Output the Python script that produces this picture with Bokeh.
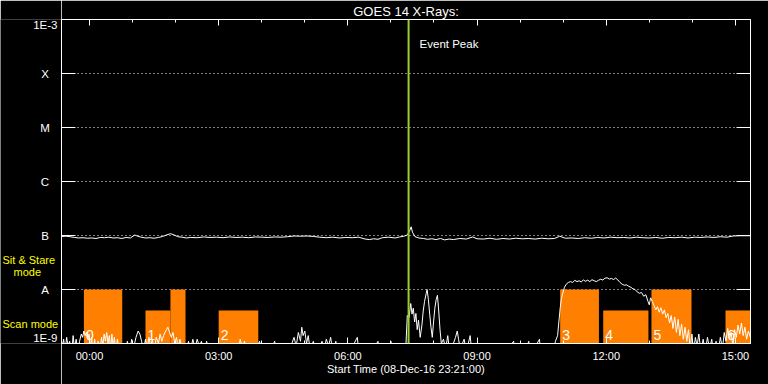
from bokeh.plotting import figure
from bokeh.layouts import row
from bokeh.models import (FixedTicker, LogAxis, LinearAxis, Label, Span, Range1d,
                          ColumnDataSource, CustomJSTickFormatter)
from bokeh.core.properties import value
from bokeh.embed import file_html
from bokeh.resources import INLINE

# ---------------- data ----------------
title_text = "GOES 14 X-Rays:"
x_axis_title = "Start Time (08-Dec-16 23:21:00)"
# x in hours relative to 09-Dec-16 00:00 ; plot spans 23:21 -> 15:21
x_start, x_end = -0.65, 15.35
x_ticks = [0, 3, 6, 9, 12, 15]
x_tick_labels = ["00:00", "03:00", "06:00", "09:00", "12:00", "15:00"]
x_minor_ticks = [1, 2, 4, 5, 7, 8, 10, 11, 13, 14]
y_ticks = [1e-9, 1e-8, 1e-7, 1e-6, 1e-5, 1e-4, 1e-3]
y_tick_labels = ["1E-9", "A", "B", "C", "M", "X", "1E-3"]

event_peak = 7.41
event_label = "Event Peak"

# observing-mode blocks (hours)
mode_start = [-0.13, 1.30, 1.88, 3.00, 10.93, 11.93, 13.05, 14.77]
mode_end = [0.76, 1.88, 2.23, 3.92, 11.83, 12.98, 13.98, 15.68]
mode_kind = ["sit", "scan", "sit", "scan", "sit", "scan", "sit", "scan"]
mode_level = {"sit": 1e-8, "scan": 4.1e-9}
mode_names = ["Sit & Stare", "mode", "Scan mode"]
seq_ids = ["0", "1", "2", "3", "4", "5", "6"]
seq_start = [-0.13, 1.30, 3.00, 10.93, 11.93, 13.05, 14.77]

# GOES long channel (1-8 A), units 1e-7 W/m^2
long_t = [-0.65, -0.55, -0.45, -0.35, -0.25, -0.15, -0.05, 0.05, 0.15, 0.25, 0.35, 0.45,
          0.55, 0.65, 0.75, 0.85, 0.95, 1.05, 1.12, 1.2, 1.3, 1.4, 1.5, 1.6, 1.7, 1.8,
          1.88, 1.95, 2.05, 2.15, 2.25, 2.35, 2.5, 2.65, 2.8, 2.95, 3.1, 3.25, 3.4, 3.55,
          3.7, 3.85, 4.0, 4.15, 4.3, 4.45, 4.6, 4.75, 4.9, 5.05, 5.2, 5.35, 5.5, 5.65,
          5.8, 5.95, 6.1, 6.25, 6.4, 6.5, 6.6, 6.7, 6.8, 6.95, 7.1, 7.2, 7.3, 7.38, 7.43,
          7.47, 7.5, 7.56, 7.65, 7.75, 7.85, 7.95, 8.05, 8.15, 8.25, 8.35, 8.45, 8.6,
          8.75, 8.9, 9.0, 9.15, 9.3, 9.45, 9.6, 9.75, 9.9, 10.05, 10.2, 10.35, 10.5,
          10.65, 10.8, 10.92, 11.05, 11.2, 11.35, 11.5, 11.65, 11.8, 11.95, 12.1, 12.25,
          12.4, 12.55, 12.7, 12.85, 13.0, 13.15, 13.3, 13.45, 13.6, 13.75, 13.9, 14.05,
          14.2, 14.35, 14.5, 14.65, 14.8, 14.95, 15.1, 15.25, 15.35]
long_v = [0.96, 0.97, 0.95, 0.92, 0.90, 0.91, 0.89, 0.90, 0.88, 0.92, 0.91, 0.93,
          0.90, 0.91, 0.88, 0.92, 0.90, 1.02, 0.97, 0.93, 0.90, 0.91, 0.89, 0.92, 0.96, 1.03,
          1.08, 1.04, 0.95, 0.93, 0.90, 0.92, 0.91, 0.94, 0.92, 0.93, 0.91, 0.94, 0.92, 0.93,
          0.91, 0.94, 0.93, 0.92, 0.94, 0.93, 0.95, 0.98, 0.97, 0.98, 0.96, 0.93, 0.91, 0.93,
          0.90, 0.92, 0.91, 0.93, 0.86, 0.84, 0.87, 0.85, 0.91, 0.93, 0.90, 0.94, 0.97, 1.02, 1.20,
          1.45, 1.15, 0.95, 0.90, 0.88, 0.85, 0.87, 0.84, 0.88, 0.83, 0.86, 0.84, 0.88,
          0.86, 0.94, 0.87, 0.86, 0.89, 0.85, 0.88, 0.86, 0.89, 0.87, 0.88, 0.86, 0.89,
          0.87, 0.88, 0.97, 0.89, 0.90, 0.88, 0.91, 0.89, 0.92, 0.90, 0.93, 0.91,
          0.92, 0.90, 0.93, 0.91, 0.90, 0.92, 0.89, 0.92, 0.91, 0.93, 0.90, 0.93,
          0.92, 0.94, 0.92, 0.95, 0.93, 0.98, 0.99, 0.99, 0.99]

# GOES short channel (0.5-4 A), units 1e-9 W/m^2
short_t = [-0.65, -0.6, -0.57, -0.53, -0.5, -0.46, -0.42, -0.38, -0.35, -0.31, -0.27, -0.23,
           -0.19, -0.16, -0.13, -0.10, -0.07, -0.04, -0.01, 0.02, 0.05, 0.08, 0.12, 0.16,
           0.2, 0.24, 0.28, 0.31, 0.34, 0.37, 0.40, 0.43, 0.46, 0.49, 0.52, 0.55, 0.58,
           0.61, 0.65, 0.69, 0.75, 0.82, 0.88, 0.92, 0.98, 1.02, 1.08, 1.13, 1.17, 1.21,
           1.25, 1.3, 1.34, 1.38, 1.42, 1.46, 1.5, 1.55, 1.6, 1.64, 1.68, 1.72, 1.77, 1.82,
           1.86, 1.9, 1.94, 1.98, 2.02, 2.06, 2.1, 2.15, 2.22, 2.3, 2.34, 2.4, 2.45, 2.5,
           2.55, 2.6, 2.66, 2.72, 2.78, 2.9, 3.0, 3.1, 3.15, 3.3, 3.45, 3.5, 3.55, 3.6,
           3.65, 3.8, 3.95, 4.0, 4.1, 4.15, 4.3, 4.35, 4.55, 4.6, 4.75, 4.8, 4.85, 4.9,
           4.93, 4.96, 5.0, 5.04, 5.08, 5.12, 5.2, 5.25, 5.4, 5.45, 5.5, 5.55, 5.6, 5.65,
           5.72, 5.78, 6.0, 6.22, 6.26, 6.5, 6.7, 6.73, 6.95, 7.0, 7.03, 7.2, 7.35, 7.38,
           7.42, 7.46, 7.49, 7.52, 7.55, 7.58, 7.61, 7.64, 7.68, 7.72, 7.75, 7.78, 7.82,
           7.84, 7.87, 7.9, 7.93, 7.96, 7.99, 8.02, 8.05, 8.08, 8.11, 8.14, 8.17, 8.22,
           8.27, 8.32, 8.36, 8.45, 8.5, 8.54, 8.57, 8.61, 8.7, 8.75, 8.84, 8.87, 9.0, 9.3,
           9.6, 9.85, 9.88, 10.1, 10.2, 10.23, 10.45, 10.48, 10.75, 10.82, 10.87, 10.9,
           10.93, 10.96, 10.99, 11.03, 11.07, 11.12, 11.17, 11.22, 11.27, 11.32, 11.37,
           11.42, 11.47, 11.52, 11.57, 11.62, 11.67, 11.72, 11.77, 11.82, 11.87, 11.92,
           11.97, 12.02, 12.07, 12.12, 12.17, 12.22, 12.27, 12.32, 12.37, 12.42, 12.47,
           12.52, 12.57, 12.62, 12.67, 12.72, 12.77, 12.82, 12.87, 12.92, 12.97, 13.0,
           13.03, 13.07, 13.11, 13.15, 13.19, 13.23, 13.27, 13.31, 13.35, 13.39, 13.43,
           13.47, 13.51, 13.55, 13.59, 13.63, 13.67, 13.71, 13.75, 13.79, 13.83, 13.87,
           13.91, 13.95, 13.99, 14.03, 14.07, 14.11, 14.15, 14.2, 14.25, 14.3, 14.35,
           14.4, 14.45, 14.5, 14.55, 14.6, 14.65, 14.7, 14.74, 14.78, 14.82, 14.86, 14.9,
           14.94, 14.98, 15.02, 15.06, 15.1, 15.14, 15.18, 15.22, 15.26, 15.3, 15.35]
short_v = [0.8, 1.2, 0.7, 1.3, 0.9, 1.1, 0.6, 1.4, 0.8, 1.2, 0.7, 1.1,
           1.5, 1.3, 1.7, 1.4, 1.6, 1.2, 1.5, 0.8, 1.3, 0.7, 1.2, 0.6,
           1.1, 0.7, 1.3, 0.9, 1.5, 1.1, 1.6, 1.0, 1.4, 0.8, 1.5, 0.9, 1.3,
           0.7, 1.2, 0.6, 0.7, 0.6, 1.1, 0.6, 1.2, 0.8, 1.3, 1.7, 1.5, 1.1,
           0.7, 1.2, 0.8, 1.3, 0.9, 1.2, 0.7, 1.3, 1.0, 1.5, 1.1, 1.4, 1.7, 2.0,
           1.6, 1.3, 1.6, 1.0, 1.3, 0.8, 1.2, 0.7, 0.6, 1.1, 0.7, 1.2, 0.8, 1.2,
           0.9, 1.1, 0.6, 1.1, 0.6, 0.6, 0.6, 1.0, 0.6, 0.6, 0.7, 1.2, 0.8, 1.1,
           0.6, 0.6, 1.1, 0.7, 1.0, 0.6, 1.1, 0.6, 1.0, 0.6, 1.3, 0.9, 1.6, 1.1,
           2.0, 1.4, 1.7, 1.0, 1.4, 0.8, 1.1, 0.6, 1.1, 0.8, 1.2, 0.9, 1.3, 0.7,
           1.1, 0.6, 0.6, 1.3, 0.6, 0.6, 1.1, 0.6, 0.6, 1.1, 0.6, 0.6, 1.0, 3.3,
           3.0, 5.5, 3.5, 4.5, 2.5, 3.6, 1.8, 2.7, 1.3, 2.2, 4.0, 6.0, 8.5,
           10.0, 6.5, 3.5, 2.0, 1.3, 2.5, 4.5, 6.5, 7.8, 4.0, 1.8, 1.0, 1.2,
           0.8, 1.4, 0.7, 1.0, 1.3, 1.7, 1.2, 0.8, 1.2, 0.7, 1.4, 0.8, 0.6, 0.6,
           0.6, 1.1, 0.6, 0.6, 1.1, 0.6, 1.2, 0.6, 0.6, 1.1, 1.4, 2.5,
           4.5, 6.8, 8.5, 11.0, 12.5, 13.5, 14.0, 13.5, 14.8, 14.0, 14.5,
           13.8, 15.0, 14.2, 14.9, 14.0, 15.2, 14.5, 14.0, 14.8, 15.5, 15.0,
           16.2, 16.5, 15.6, 16.0, 15.3, 16.3, 15.0, 13.5, 12.5, 12.0, 12.2,
           11.5, 11.0, 10.3, 10.0, 9.0, 8.5, 8.8, 7.5, 8.0, 6.0, 5.2,
           7.0, 6.0, 5.0, 4.2, 4.8, 3.8, 4.6, 3.5, 4.2, 3.0, 3.6,
           2.4, 3.3, 1.9, 3.1, 1.6, 2.8, 1.4, 2.3, 1.2, 2.0, 1.1,
           1.8, 0.8, 1.5, 0.7, 1.3, 0.9, 1.5, 0.7, 1.2, 0.7, 1.3,
           0.8, 1.2, 0.6, 1.1, 0.7, 1.3, 0.8, 1.6, 1.1, 1.9, 1.2, 1.6,
           0.9, 1.8, 1.3, 2.2, 1.5, 2.4, 1.4, 2.0, 1.2, 1.7, 1.3]

# ---------------- styling ----------------
FONT = "Liberation Sans"
ORANGE = "#ff8000"
PEAK_GREEN = "#9acd32"
YELLOW = "#ffff00"
W, H = 768, 384
FL, FR, FT, FB = 61, 750, 19, 343   # plot frame in page pixels


def px_y(py):
    return 10 ** (-9 + (FB - py) / (FB - FT) * 6)


# ---------- left label strip (same frame rows and vertical scale as the plot) ----------
lp = figure(width=FL, height=H, x_range=Range1d(0, FL),
            y_range=Range1d(y_ticks[0], y_ticks[-1]), y_axis_type="log",
            output_backend="svg", toolbar_location=None,
            x_axis_location=None, y_axis_location=None,
            min_border_left=0, min_border_right=0,
            min_border_top=FT, min_border_bottom=H - FB,
            background_fill_color="black", border_fill_color="black",
            outline_line_color=None)
lp.grid.visible = False

num_lab = [l for l in y_tick_labels if l.startswith("1E")]
num_y = [px_y(337.8) if l == "1E-9" else px_y(24) for l in num_lab]
lp.text(x=[57] * len(num_lab), y=num_y, text=num_lab, text_align="right",
        text_baseline="middle", text_color="white", text_font=value(FONT),
        text_font_size="11.5px")
let_lab = [l for l in y_tick_labels if not l.startswith("1E")]
let_y = [v for v, l in zip(y_ticks, y_tick_labels) if not l.startswith("1E")]
lp.text(x=[44.5] * len(let_lab), y=let_y, text=let_lab, text_align="center",
        text_baseline="middle", text_color="white", text_font=value(FONT),
        text_font_size="11.5px")
lp.text(x=[2, 13, 2], y=[px_y(259), px_y(271), px_y(323.5)], text=mode_names,
        text_align="left", text_baseline="middle", text_color=YELLOW,
        text_font=value(FONT), text_font_size="11px")

# ---------- main plot ----------
p = figure(width=W - FL, height=H, x_range=Range1d(x_start, x_end),
           y_range=Range1d(y_ticks[0], y_ticks[-1]), y_axis_type="log",
           output_backend="svg", toolbar_location=None,
           min_border_left=0, min_border_right=W - FR,
           min_border_top=FT, min_border_bottom=H - FB,
           background_fill_color="black", border_fill_color="black",
           outline_line_color="white", outline_line_width=1)

p.title.text = title_text
p.title.align = "center"
p.title.offset = -3
p.title.standoff = 2
p.title.text_color = "white"
p.title.text_font = FONT
p.title.text_font_size = "13px"
p.title.text_font_style = "normal"

empty_fmt = CustomJSTickFormatter(code="return ''")

xa = p.xaxis[0]
xa.ticker = FixedTicker(ticks=x_ticks, minor_ticks=x_minor_ticks)
xa.major_label_overrides = dict(zip(x_ticks, x_tick_labels))
xa.axis_label = x_axis_title

ta = LinearAxis(ticker=FixedTicker(ticks=x_ticks, minor_ticks=x_minor_ticks),
                formatter=empty_fmt)
p.add_layout(ta, "above")

ya = p.yaxis[0]
ya.ticker = FixedTicker(ticks=y_ticks[1:-1], minor_ticks=[])
ya.formatter = empty_fmt
ra = LogAxis(ticker=FixedTicker(ticks=y_ticks[1:-1], minor_ticks=[]), formatter=empty_fmt)
p.add_layout(ra, "right")

for ax in [xa, ta]:
    ax.major_tick_in = 6
    ax.major_tick_out = 0
    ax.minor_tick_in = 3
    ax.minor_tick_out = 0
    ax.minor_tick_line_color = "white"
for ax in [ya, ra]:
    ax.major_tick_in = 14
    ax.major_tick_out = 0
    ax.minor_tick_line_color = None
for ax in [ta, ya, ra]:
    ax.major_label_standoff = 0
for ax in [xa, ta, ya, ra]:
    ax.axis_line_color = "white"
    ax.major_tick_line_color = "white"
    ax.major_label_text_color = "white"
    ax.major_label_text_font = FONT
    ax.major_label_text_font_size = "11px"
    ax.axis_label_text_color = "white"
    ax.axis_label_text_font = FONT
    ax.axis_label_text_font_size = "11px"
    ax.axis_label_text_font_style = "normal"
xa.major_label_standoff = 6
xa.axis_label_standoff = -2

p.xgrid.visible = False
p.ygrid.ticker = FixedTicker(ticks=y_ticks[1:-1], minor_ticks=[])
p.ygrid.grid_line_color = "white"
p.ygrid.grid_line_dash = "1 3"
p.ygrid.grid_line_width = 1

# mode blocks
bars = ColumnDataSource(dict(left=mode_start, right=mode_end,
                             top=[mode_level[k] for k in mode_kind],
                             bottom=[y_ticks[0]] * len(mode_start)))
p.quad(left="left", right="right", top="top", bottom="bottom", source=bars,
       fill_color=ORANGE, line_color=None)

p.text(x=seq_start, y=[y_ticks[0]] * len(seq_start), text=seq_ids,
       x_offset=2, y_offset=-4, text_baseline="bottom", text_align="left",
       text_color="white", text_font=value(FONT), text_font_size="14px")

# curves
p.line(short_t, [v * 1e-9 for v in short_v], line_color="white", line_width=1)
p.line(long_t, [v * 1e-7 for v in long_v], line_color="white", line_width=1)

p.add_layout(Span(location=event_peak, dimension="height", line_color=PEAK_GREEN,
                  line_width=2))
p.add_layout(Label(x=event_peak, y=px_y(43), x_offset=11, text=event_label,
                   text_baseline="middle", text_color="white", text_font=FONT,
                   text_font_size="11.5px"))

layout = row(lp, p, spacing=0)
open("out.html", "w").write(file_html(layout, INLINE))
